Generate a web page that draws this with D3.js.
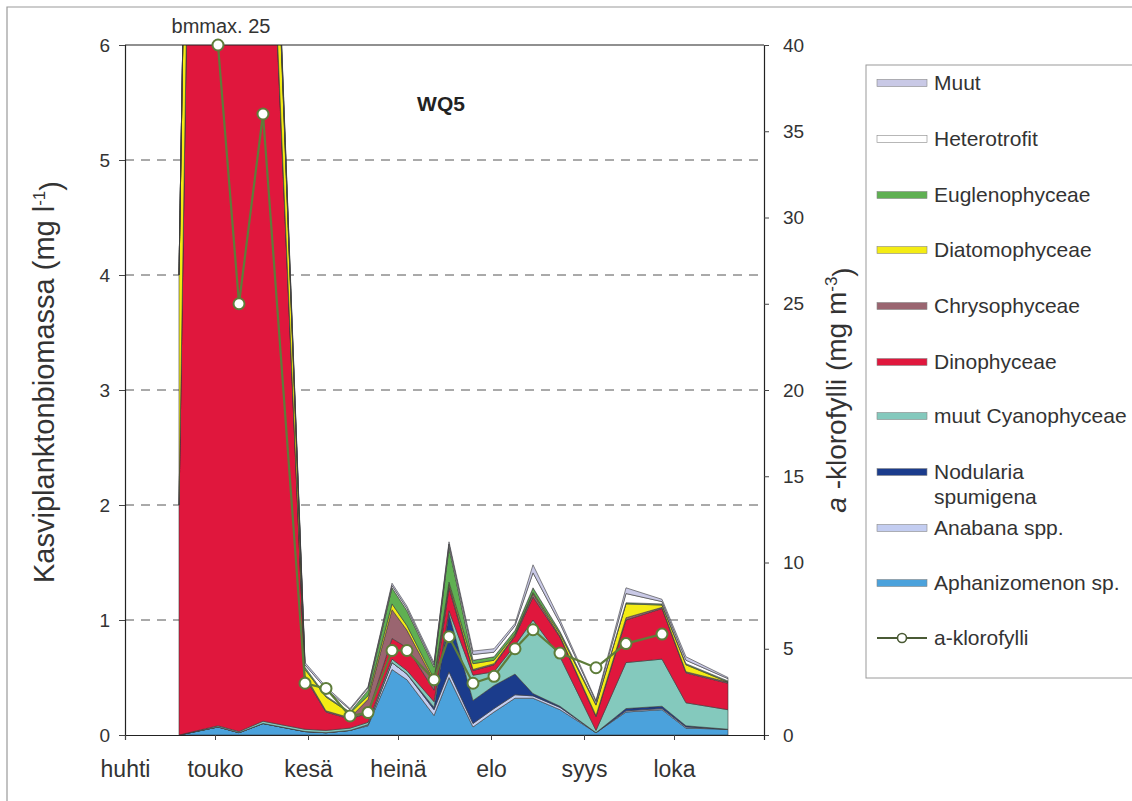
<!DOCTYPE html>
<html>
<head>
<meta charset="utf-8">
<script src="https://cdn.jsdelivr.net/npm/d3@7"></script>
<style>
  html, body { margin: 0; padding: 0; background: #fff; }
  svg { display: block; font-family: "Liberation Sans", Arial, Helvetica, sans-serif; }
</style>
</head>
<body>
<svg id="chart" width="1132" height="801"></svg>
<script>
// Sampling dates (WQ5 station)
const sampleDates = ["2008-04-19","2008-05-02","2008-05-09","2008-05-17","2008-05-31","2008-06-07",
  "2008-06-15","2008-06-21","2008-06-29","2008-07-04","2008-07-13","2008-07-18","2008-07-26",
  "2008-08-02","2008-08-09","2008-08-15","2008-08-24","2008-09-05","2008-09-15","2008-09-27",
  "2008-10-05","2008-10-19"];

// Phytoplankton biomass by group, mg/l
const aphanizomenon = [0, 0.07, 0.02, 0.10, 0.03, 0.02, 0.04, 0.08, 0.57, 0.48, 0.17, 0.50, 0.07, 0.20, 0.32, 0.32, 0.22, 0.02, 0.20, 0.22, 0.06, 0.05];
const anabaena      = [0, 0, 0, 0, 0, 0, 0, 0.01, 0.06, 0.05, 0.05, 0.05, 0.03, 0.03, 0.03, 0.02, 0.02, 0, 0.01, 0.01, 0.01, 0];
const nodularia     = [0, 0, 0, 0, 0, 0, 0, 0, 0, 0, 0.02, 0.50, 0.20, 0.20, 0.18, 0.02, 0.01, 0, 0.02, 0.02, 0.01, 0];
const muutCyano     = [0, 0.01, 0.01, 0.02, 0.02, 0.02, 0.02, 0.02, 0.03, 0.03, 0.05, 0.03, 0.22, 0.12, 0.25, 0.64, 0.43, 0.02, 0.40, 0.41, 0.20, 0.17];
const dinophyceae   = [2.0, 23.5, 12.0, 8.8, 0.45, 0.16, 0.08, 0.08, 0.18, 0.20, 0.10, 0.20, 0.04, 0.06, 0.08, 0.20, 0.17, 0.12, 0.37, 0.44, 0.26, 0.23];
const chrysophyceae = [0, 0.10, 0.05, 0.05, 0.02, 0.01, 0.01, 0.12, 0.25, 0.15, 0.08, 0.03, 0.01, 0.01, 0.01, 0.03, 0.01, 0.01, 0.02, 0.01, 0.01, 0.01];
const diatomophyceae= [2.0, 1.0, 0.6, 1.2, 0.05, 0.12, 0.04, 0.03, 0.05, 0.04, 0.02, 0.02, 0.05, 0.03, 0.01, 0.01, 0.02, 0.09, 0.12, 0.02, 0.06, 0];
const euglenophyceae= [0, 0.10, 0.05, 0.05, 0.02, 0.01, 0.01, 0.05, 0.14, 0.13, 0.10, 0.30, 0.03, 0.03, 0.03, 0.04, 0.02, 0.01, 0.01, 0.01, 0.01, 0.01];
const heterotrofit  = [0, 0.10, 0.05, 0.05, 0.02, 0.06, 0.02, 0.02, 0.02, 0.02, 0.02, 0.03, 0.05, 0.04, 0.04, 0.13, 0.07, 0.02, 0.08, 0.02, 0.03, 0.02];
const muut          = [0, 0.13, 0.05, 0.05, 0.02, 0.02, 0.01, 0.01, 0.02, 0.02, 0.02, 0.02, 0.03, 0.03, 0.02, 0.07, 0.03, 0.01, 0.05, 0.02, 0.03, 0.01];

// Chlorophyll a, mg/m3 (sampled from 2 May to 27 Sep)
const chlDates = sampleDates.slice(1, 20);
const chlorophyll = [40, 25, 36, 3.0, 2.7, 1.1, 1.3, 4.9, 4.9, 3.2, 5.7, 3.0, 3.4, 5.0, 6.1, 4.75, 3.9, 5.3, 5.85];

// Axis labels
const monthLabels = ["huhti", "touko", "kesä", "heinä", "elo", "syys", "loka"];
const leftTicks = [0, 1, 2, 3, 4, 5, 6];
const rightTicks = [0, 5, 10, 15, 20, 25, 30, 35, 40];

// Series, stacked bottom to top
const series = [
  { key: "Aphanizomenon sp.", values: aphanizomenon, color: "#4ba2dc" },
  { key: "Anabana spp.", values: anabaena, color: "#c3cdf1" },
  { key: "Nodularia spumigena", values: nodularia, color: "#1b3c8c" },
  { key: "muut Cyanophyceae", values: muutCyano, color: "#84c9bd" },
  { key: "Dinophyceae", values: dinophyceae, color: "#e0173d" },
  { key: "Chrysophyceae", values: chrysophyceae, color: "#9a6570" },
  { key: "Diatomophyceae", values: diatomophyceae, color: "#f4ec14" },
  { key: "Euglenophyceae", values: euglenophyceae, color: "#5fb052" },
  { key: "Heterotrofit", values: heterotrofit, color: "#ffffff" },
  { key: "Muut", values: muut, color: "#c9c9e6" }
];

const svg = d3.select("#chart");
const parse = d3.utcParse("%Y-%m-%d");

const plot = { left: 125, right: 764, top: 45, bottom: 735 };

const x = d3.scaleUtc()
  .domain([parse("2008-04-01"), parse("2008-10-31")])
  .range([plot.left, plot.right]);
const yL = d3.scaleLinear().domain([0, 6]).range([plot.bottom, plot.top]);
const yR = d3.scaleLinear().domain([0, 40]).range([plot.bottom, plot.top]);

// outer frame
svg.append("path")
  .attr("d", `M7,801 V7 H1132`)
  .attr("fill", "none").attr("stroke", "#9a9a9a").attr("stroke-width", 1.2);

// dashed grid lines (behind the areas)
svg.append("g").selectAll("line")
  .data(leftTicks.filter(d => d > 0 && d < 6))
  .join("line")
  .attr("x1", plot.left).attr("x2", plot.right)
  .attr("y1", d => yL(d)).attr("y2", d => yL(d))
  .attr("stroke", "#555").attr("stroke-width", 1)
  .attr("stroke-dasharray", "9,7");

// stacked areas
const rows = sampleDates.map((d, i) => {
  const r = { date: parse(d) };
  series.forEach(s => { r[s.key] = s.values[i]; });
  return r;
});
const stacked = d3.stack().keys(series.map(s => s.key))(rows);

svg.append("defs").append("clipPath").attr("id", "plotClip")
  .append("rect")
  .attr("x", plot.left).attr("y", plot.top)
  .attr("width", plot.right - plot.left).attr("height", plot.bottom - plot.top);

const area = d3.area()
  .x(d => x(d.data.date))
  .y0(d => yL(d[0]))
  .y1(d => yL(d[1]));

svg.append("g").attr("clip-path", "url(#plotClip)")
  .selectAll("path")
  .data(stacked)
  .join("path")
  .attr("d", area)
  .attr("fill", (d, i) => series[i].color)
  .attr("stroke", "#3a3a3a")
  .attr("stroke-width", 0.6)
  .attr("stroke-linejoin", "round");

// plot frame (top border)
svg.append("line")
  .attr("x1", plot.left).attr("x2", plot.right)
  .attr("y1", plot.top).attr("y2", plot.top)
  .attr("stroke", "#222").attr("stroke-width", 1.2);

// axes
const axisText = g => g.selectAll("text")
  .attr("fill", "#333")
  .style("font-family", '"Liberation Sans", Arial, sans-serif');

const gL = svg.append("g").attr("transform", `translate(${plot.left},0)`)
  .call(d3.axisLeft(yL).tickValues(leftTicks).tickSize(6).tickPadding(9).tickFormat(d3.format("d")));
gL.call(axisText).selectAll("text").style("font-size", "19px");

const gR = svg.append("g").attr("transform", `translate(${plot.right},0)`)
  .call(d3.axisRight(yR).tickValues(rightTicks).tickSize(5).tickPadding(14).tickFormat(d3.format("d")));
gR.call(axisText).selectAll("text").style("font-size", "19px");

const monthStarts = d3.range(3, 10).map(m => new Date(Date.UTC(2008, m, 1)));
const gB = svg.append("g").attr("transform", `translate(0,${plot.bottom})`)
  .call(d3.axisBottom(x).tickValues(monthStarts).tickSize(5).tickPadding(21)
    .tickFormat((d, i) => monthLabels[i]));
gB.call(axisText).selectAll("text").style("font-size", "23px");

[gL, gR, gB].forEach(g => {
  g.select(".domain").attr("stroke", "#222").attr("stroke-width", 1.2);
  g.selectAll(".tick line").attr("stroke", "#444");
});

// axis titles
svg.append("text")
  .attr("transform", `translate(54,${(plot.top + plot.bottom) / 2 - 8}) rotate(-90)`)
  .attr("text-anchor", "middle")
  .attr("fill", "#333")
  .style("font-size", "29px")
  .call(t => {
    t.append("tspan").text("Kasviplanktonbiomassa (mg l");
    t.append("tspan").attr("dy", "-0.55em").style("font-size", "17px").text("-1");
    t.append("tspan").attr("dy", "0.55em").text(")");
  });

svg.append("text")
  .attr("transform", `translate(846,${(plot.top + plot.bottom) / 2}) rotate(-90)`)
  .attr("text-anchor", "middle")
  .attr("fill", "#333")
  .style("font-size", "28px")
  .call(t => {
    t.append("tspan").style("font-style", "italic").text("a");
    t.append("tspan").text(" -klorofylli (mg m");
    t.append("tspan").attr("dy", "-0.55em").style("font-size", "17px").text("-3");
    t.append("tspan").attr("dy", "0.55em").text(")");
  });

// station title and max annotation
svg.append("text").attr("x", 441).attr("y", 111).attr("text-anchor", "middle")
  .attr("fill", "#222").style("font-size", "21px").style("font-weight", "bold").text("WQ5");

svg.append("text").attr("x", 221).attr("y", 33).attr("text-anchor", "middle")
  .attr("fill", "#333").style("font-size", "20px").text("bmmax. 25");

// chlorophyll line
const line = d3.line()
  .x((d, i) => x(parse(chlDates[i])))
  .y(d => yR(d));
svg.append("path")
  .datum(chlorophyll)
  .attr("d", line)
  .attr("fill", "none")
  .attr("stroke", "#5e7d3a")
  .attr("stroke-width", 2.2);
svg.append("g").selectAll("circle")
  .data(chlorophyll)
  .join("circle")
  .attr("cx", (d, i) => x(parse(chlDates[i])))
  .attr("cy", d => yR(d))
  .attr("r", 5.5)
  .attr("fill", "#fff")
  .attr("stroke", "#5e7d3a")
  .attr("stroke-width", 2);

// legend
const legend = svg.append("g");
legend.append("rect")
  .attr("x", 866).attr("y", 65).attr("width", 300).attr("height", 613)
  .attr("fill", "#fff").attr("stroke", "#9a9a9a").attr("stroke-width", 1);

const legendItems = series.slice().reverse();
const legendY = [83, 139, 195, 250, 306, 362, 416, 472, 528, 583];
legendItems.forEach((s, i) => {
  const yy = legendY[i];
  legend.append("rect")
    .attr("x", 877).attr("y", yy - 3.5).attr("width", 50).attr("height", 7)
    .attr("fill", s.color).attr("stroke", "#888").attr("stroke-width", 0.6);
  const t = legend.append("text").attr("x", 934).attr("y", yy + 7)
    .attr("fill", "#333").style("font-size", "21px");
  if (s.key === "Nodularia spumigena") {
    t.append("tspan").attr("x", 934).text("Nodularia");
    t.append("tspan").attr("x", 934).attr("dy", 25).text("spumigena");
  } else {
    t.text(s.key);
  }
});
const chlY = 638;
legend.append("line").attr("x1", 877).attr("x2", 927).attr("y1", chlY).attr("y2", chlY)
  .attr("stroke", "#4a5a35").attr("stroke-width", 2);
legend.append("circle").attr("cx", 902).attr("cy", chlY).attr("r", 4.5)
  .attr("fill", "#fff").attr("stroke", "#4a5a35").attr("stroke-width", 1.6);
legend.append("text").attr("x", 934).attr("y", chlY + 7)
  .attr("fill", "#333").style("font-size", "21px").text("a-klorofylli");
</script>
</body>
</html>
